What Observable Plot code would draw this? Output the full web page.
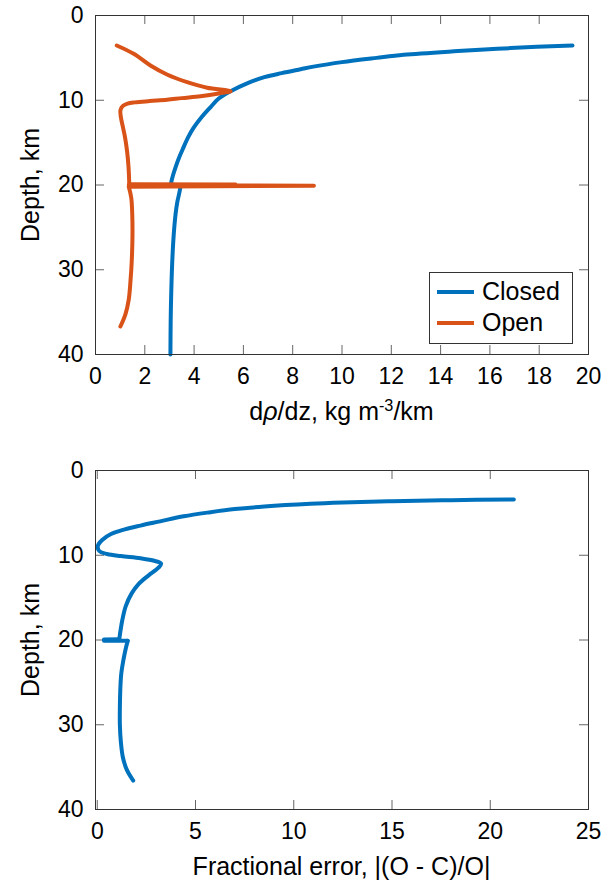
<!DOCTYPE html>
<html>
<head>
<meta charset="utf-8">
<script src="https://cdn.jsdelivr.net/npm/d3@7"></script>
<script src="https://cdn.jsdelivr.net/npm/@observablehq/plot@0.6"></script>
<style>
  body { margin: 0; background: #fff; font-family: "Liberation Sans", Arial, Helvetica, sans-serif; }
  #wrap { position: relative; width: 605px; height: 882px; overflow: hidden; }
  .panel { position: absolute; left: 0; }
  .lbl { position: absolute; font-size: 25px; line-height: 1; color: #000; white-space: nowrap; }
  .xl { transform: translateX(-50%); }
  .yl { transform: translate(-50%, -50%) rotate(-90deg); }
  .legend { position: absolute; left: 429px; top: 272px; width: 144px; height: 72px; box-sizing: border-box;
            border: 1px solid #333; background: #fff; }
  .sw { position: absolute; left: 7px; width: 37px; height: 4px; }
  .lt { position: absolute; left: 52px; font-size: 25px; line-height: 1; }
</style>
</head>
<body>
<div id="wrap"></div>
<script>
// ---- Data ----
// Top panel: Closed curve
const closedDrho  = [19.35, 17.9, 16.3, 14.7, 12.5, 11.4, 10.0, 8.9, 8.32, 7.55, 6.85, 6.15, 5.48, 5.0, 4.67, 4.3, 3.99, 3.75, 3.58, 3.4, 3.25, 3.13, 3.05, 3.45, 3.42, 3.32, 3.25, 3.17, 3.11, 3.07, 3.05, 3.04];
const closedDepth = [3.54, 3.7, 3.93, 4.2, 4.64, 5.0, 5.5, 6.0, 6.34, 6.8, 7.28, 8.0, 8.93, 9.8, 10.8, 12.0, 13.2, 14.4, 15.5, 16.7, 17.9, 19.0, 19.95, 20.05, 20.65, 22.0, 23.4, 26.0, 29.3, 33.0, 36.0, 40.0];
// Top panel: Open curve
const openDrho  = [0.86, 1.55, 2.23, 2.9, 3.72, 4.53, 5.48, 5.0, 4.26, 3.5, 2.9, 2.2, 1.6, 1.3, 1.1, 1.01, 1.03, 1.1, 1.2, 1.28, 1.34, 1.37, 5.68, 1.35, 8.86, 1.35, 1.45, 1.49, 1.5, 1.47, 1.42, 1.35, 1.22, 1.01];
const openDepth = [3.54, 4.52, 5.9, 6.96, 7.87, 8.53, 8.93, 9.2, 9.52, 9.75, 9.95, 10.1, 10.25, 10.4, 10.7, 11.2, 12.0, 13.0, 14.4, 16.0, 17.9, 19.9, 19.93, 19.97, 20.1, 20.2, 21.5, 23.4, 26.0, 29.0, 31.3, 33.5, 35.2, 36.7];
// Bottom panel: fractional error
const errValue = [21.2, 18, 15, 12.5, 10.85, 8.5, 7, 5.76, 4.4, 3.2, 2.2, 1.4, 0.7, 0.25, 0.03, 0.1, 0.5, 1.2, 2.2, 2.9, 3.25, 3.1, 2.6, 2.1, 1.75, 1.45, 1.27, 1.12, 0.34, 0.34, 1.55, 1.45, 1.32, 1.22, 1.17, 1.15, 1.15, 1.2, 1.3, 1.5, 1.83];
const errDepth = [3.42, 3.5, 3.62, 3.78, 3.93, 4.25, 4.55, 4.92, 5.4, 6.0, 6.5, 6.95, 7.5, 8.2, 8.9, 9.5, 9.85, 10.1, 10.35, 10.65, 11.0, 11.5, 12.4, 13.4, 14.5, 16.0, 17.7, 19.9, 19.95, 20.1, 20.1, 21.0, 22.5, 24.0, 26.0, 28.0, 30.0, 32.0, 33.8, 35.3, 36.6];
// Index ranges of the sharp (straight) jumps at the 20 km interface
const closedJump = [22, 23];
const openJump = [21, 25];
const errJump = [27, 30];
// Ticks
const xTicksTop = [0, 2, 4, 6, 8, 10, 12, 14, 16, 18, 20];
const xTicksBottom = [0, 5, 10, 15, 20, 25];
const yTicks = [0, 10, 20, 30, 40];

const BLUE = "#0072BD", ORANGE = "#D95319";
const FONT = "'Liberation Sans', Arial, Helvetica, sans-serif";
const W = 605, H = 441, ML = 95, MR = 17;
const PW = W - ML - MR;
const LW = 4;

const rows = (xs, ys) => xs.map((v, i) => ({v, depth: ys[i]}));

function curveMarks(data, [a, b], color) {
  const o = {x: "v", y: "depth", stroke: color, strokeWidth: LW};
  return [
    Plot.line(data.slice(0, a + 1), {...o, curve: "catmull-rom"}),
    Plot.line(data.slice(a, b + 1), {...o, curve: "linear"}),
    Plot.line(data.slice(b), {...o, curve: "catmull-rom"})
  ];
}

function tickMarks(xt, yt, PH) {
  const s = {stroke: "#666", strokeWidth: 1};
  return [
    Plot.ruleX(xt, {x: d => d, insetTop: PH - 9, ...s}),
    Plot.ruleX(xt, {x: d => d, insetBottom: PH - 9, ...s}),
    Plot.ruleY(yt, {y: d => d, insetRight: PW - 9, ...s}),
    Plot.ruleY(yt, {y: d => d, insetLeft: PW - 9, ...s})
  ];
}

function makePanel({mt, mb, xDomain, xTicks, lines}) {
  const PH = H - mt - mb;
  return Plot.plot({
    width: W, height: H,
    marginLeft: ML, marginRight: MR, marginTop: mt, marginBottom: mb,
    style: {fontFamily: FONT, fontSize: "23px", background: "white", color: "#000", overflow: "visible"},
    x: {domain: xDomain},
    y: {domain: [0, 40], reverse: true},
    marks: [
      Plot.axisX({ticks: xTicks, anchor: "bottom", tickSize: 0, tickPadding: 13, label: null, fontSize: 23}),
      Plot.axisY({ticks: yTicks, anchor: "left", tickSize: 0, tickPadding: 12, label: null, fontSize: 23}),
      ...tickMarks(xTicks, yTicks, PH),
      ...lines,
      Plot.frame({stroke: "#333", strokeWidth: 1})
    ]
  });
}

const topChart = makePanel({
  mt: 15, mb: 87, xDomain: [0, 20], xTicks: xTicksTop,
  lines: [
    ...curveMarks(rows(closedDrho, closedDepth), closedJump, BLUE),
    ...curveMarks(rows(openDrho, openDepth), openJump, ORANGE)
  ]
});
const bottomChart = makePanel({
  mt: 29, mb: 73, xDomain: [-0.09, 25], xTicks: xTicksBottom,
  lines: curveMarks(rows(errValue, errDepth), errJump, BLUE)
});

const wrap = document.getElementById("wrap");
const d1 = document.createElement("div"); d1.className = "panel"; d1.style.top = "0px"; d1.appendChild(topChart);
const d2 = document.createElement("div"); d2.className = "panel"; d2.style.top = H + "px"; d2.appendChild(bottomChart);
wrap.appendChild(d1); wrap.appendChild(d2);

function addLabel(html, cls, left, topPx) {
  const el = document.createElement("div");
  el.className = "lbl " + cls;
  el.style.left = left + "px";
  el.style.top = topPx + "px";
  el.innerHTML = html;
  wrap.appendChild(el);
}
const cx = ML + PW / 2;
addLabel("d<i>ρ</i>/dz, kg m<sup style='font-size:0.65em;vertical-align:0.55em;line-height:0'>-3</sup>/km", "xl", cx, 399);
addLabel("Fractional error, |(O - C)/O|", "xl", cx, 854);
addLabel("Depth, km", "yl", 29.5, 184.5);
addLabel("Depth, km", "yl", 29.5, 639.5);

// Legend
const leg = document.createElement("div");
leg.className = "legend";
const legendItems = [{name: "Closed", color: BLUE}, {name: "Open", color: ORANGE}];
legendItems.forEach((it, i) => {
  const sw = document.createElement("div");
  sw.className = "sw"; sw.style.background = it.color; sw.style.top = (17.3 + i * 31) + "px";
  const t = document.createElement("div");
  t.className = "lt"; t.style.top = (5.8 + i * 31.5) + "px"; t.textContent = it.name;
  leg.appendChild(sw); leg.appendChild(t);
});
wrap.appendChild(leg);
</script>
</body>
</html>
